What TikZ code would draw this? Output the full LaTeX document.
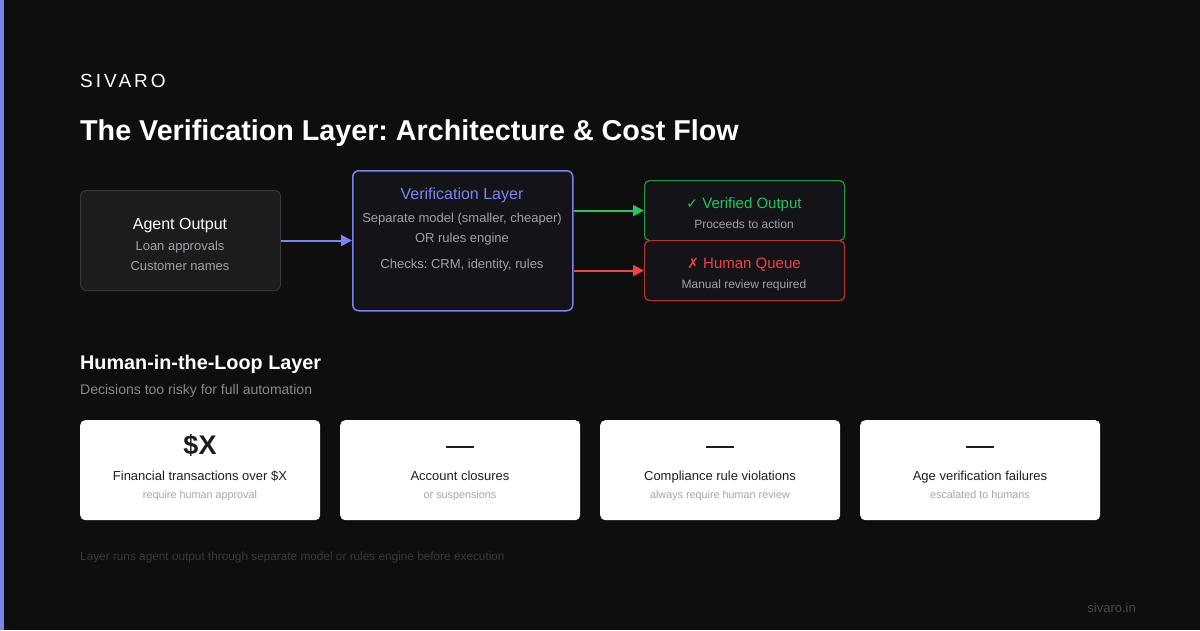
\documentclass[tikz,border=0pt]{standalone}
\usepackage{fontspec}
\setmainfont{Liberation Sans}
\newfontfamily\symfont{DejaVu Sans}
\newfontfamily\spacedfont[LetterSpace=16]{Liberation Sans}
\usetikzlibrary{arrows.meta}
\definecolor{bg}{HTML}{0E0E0E}
\definecolor{accent}{HTML}{7B83EE}
\definecolor{boxfill}{HTML}{1C1C1F}
\definecolor{boxline}{HTML}{35353A}
\definecolor{vfill}{HTML}{141418}
\definecolor{subgray}{HTML}{A0A0A8}
\definecolor{okgreen}{HTML}{22C55E}
\definecolor{okline}{HTML}{1E9A48}
\definecolor{badred}{HTML}{EF4444}
\definecolor{badline}{HTML}{B33434}
\definecolor{cardtext}{HTML}{1E1E1E}
\definecolor{cardsub}{HTML}{A5A5AE}
\definecolor{foot}{HTML}{3A3A3C}
\definecolor{url}{HTML}{4A4A4E}
\newcommand{\fs}[1]{\fontsize{#1}{#1}\selectfont}
\frenchspacing
\tikzset{
  x=1pt, y=-1pt,
  txt/.style={inner sep=0pt, anchor=base},
  flowbox/.style={draw=boxline, line width=1pt, fill=boxfill, rounded corners=6pt},
  card/.style={fill=white, rounded corners=5pt},
  arr/.style={line width=2pt, -{Triangle[length=11pt,width=11pt]}},
}
\begin{document}
\begin{tikzpicture}
\fill[bg] (0,0) rectangle (1200,630);
\useasboundingbox (0,0) rectangle (1200,630);
\fill[accent] (0,0) rectangle (4,630);

% header
\node[txt, anchor=base west, text=white] (brand) at (80,87) {\spacedfont\fs{19}SIVARO};
\node[txt, anchor=base west, text=white] (title) at (80,140) {\fs{28.7}\bfseries The Verification Layer: Architecture \& Cost Flow};

% agent output
\node[flowbox, minimum width=200pt, minimum height=100pt, anchor=north west] (agent) at (80,190) {};
\node[txt, text=white] (agentT) at (180,229) {\fs{16}Agent Output};
\node[txt, text=subgray] (agent1) at (180,250) {\fs{13}Loan approvals};
\node[txt, text=subgray] (agent2) at (180,270) {\fs{13}Customer names};

% verification layer
\node[draw=accent, line width=1.5pt, fill=vfill, rounded corners=6pt, minimum width=220pt, minimum height=140pt, anchor=north west] (ver) at (352,170) {};
\node[txt, text=accent] (verT) at (462,199) {\fs{16}Verification Layer};
\node[txt, text=subgray] (ver1) at (462,222) {\fs{13}Separate model (smaller, cheaper)};
\node[txt, text=subgray] (ver2) at (462,242) {\fs{13}OR rules engine};
\node[txt, text=subgray] (ver3) at (462,268) {\fs{13}Checks: CRM, identity, rules};

% outcomes
\node[draw=okline, line width=1.2pt, fill=vfill, rounded corners=5pt, minimum width=200pt, minimum height=60pt, anchor=north west] (ok) at (644,180) {};
\node[txt, text=okgreen] (okT) at (744,208) {\fs{15}{\symfont\fs{14}✓} Verified Output};
\node[txt, text=subgray] (ok1) at (744,228) {\fs{12}Proceeds to action};

\node[draw=badline, line width=1.2pt, fill=vfill, rounded corners=5pt, minimum width=200pt, minimum height=60pt, anchor=north west] (hq) at (644,240) {};
\node[txt, text=badred] (hqT) at (744,268) {\fs{15}{\symfont\fs{14}✗} Human Queue};
\node[txt, text=subgray] (hq1) at (744,288) {\fs{12}Manual review required};

% connectors
\draw[arr, accent] (agent.east) -- (ver.west |- agent.east);
\draw[arr, okgreen] (ver.east |- ok.west) -- (ok.west);
\draw[arr, badred] (ver.east |- hq.west) -- (hq.west);

% human in the loop
\node[txt, anchor=base west, text=white] (hil) at (80,369) {\fs{19.8}\bfseries Human-in-the-Loop Layer};
\node[txt, anchor=base west, text=subgray!85!black] (hilS) at (80,394) {\fs{14}Decisions too risky for full automation};

% cards
\node[card, minimum width=240pt, minimum height=100pt, anchor=north west] (c1) at (80,420) {};
\node[card, minimum width=240pt, minimum height=100pt, anchor=north west] (c2) at (340,420) {};
\node[card, minimum width=240pt, minimum height=100pt, anchor=north west] (c3) at (600,420) {};
\node[card, minimum width=240pt, minimum height=100pt, anchor=north west] (c4) at (860,420) {};

\node[txt, text=cardtext] (c1big) at (200,454) {\fs{27}\bfseries \$X};
\foreach \cx in {460, 720, 980}{
  \draw[line width=2.5pt, cardtext] (\cx-14,447) -- (\cx+14,447);
}
\node[txt, text=cardtext] (c1m) at (200,480) {\fs{13}Financial transactions over \$X};
\node[txt, text=cardsub] (c1s) at (200,498) {\fs{10.8}require human approval};
\node[txt, text=cardtext] (c2m) at (460,480) {\fs{13}Account closures};
\node[txt, text=cardsub] (c2s) at (460,498) {\fs{10.8}or suspensions};
\node[txt, text=cardtext] (c3m) at (720,480) {\fs{13}Compliance rule violations};
\node[txt, text=cardsub] (c3s) at (720,498) {\fs{10.8}always require human review};
\node[txt, text=cardtext] (c4m) at (980,480) {\fs{13}Age verification failures};
\node[txt, text=cardsub] (c4s) at (980,498) {\fs{10.8}escalated to humans};

% footer
\node[txt, anchor=base west, text=foot] (footer) at (80,560) {\fs{11.8}Layer runs agent output through separate model or rules engine before execution};
\node[txt, anchor=base east, text=url] (site) at (1136,612) {\fs{13}sivaro.in};
\end{tikzpicture}
\end{document}
